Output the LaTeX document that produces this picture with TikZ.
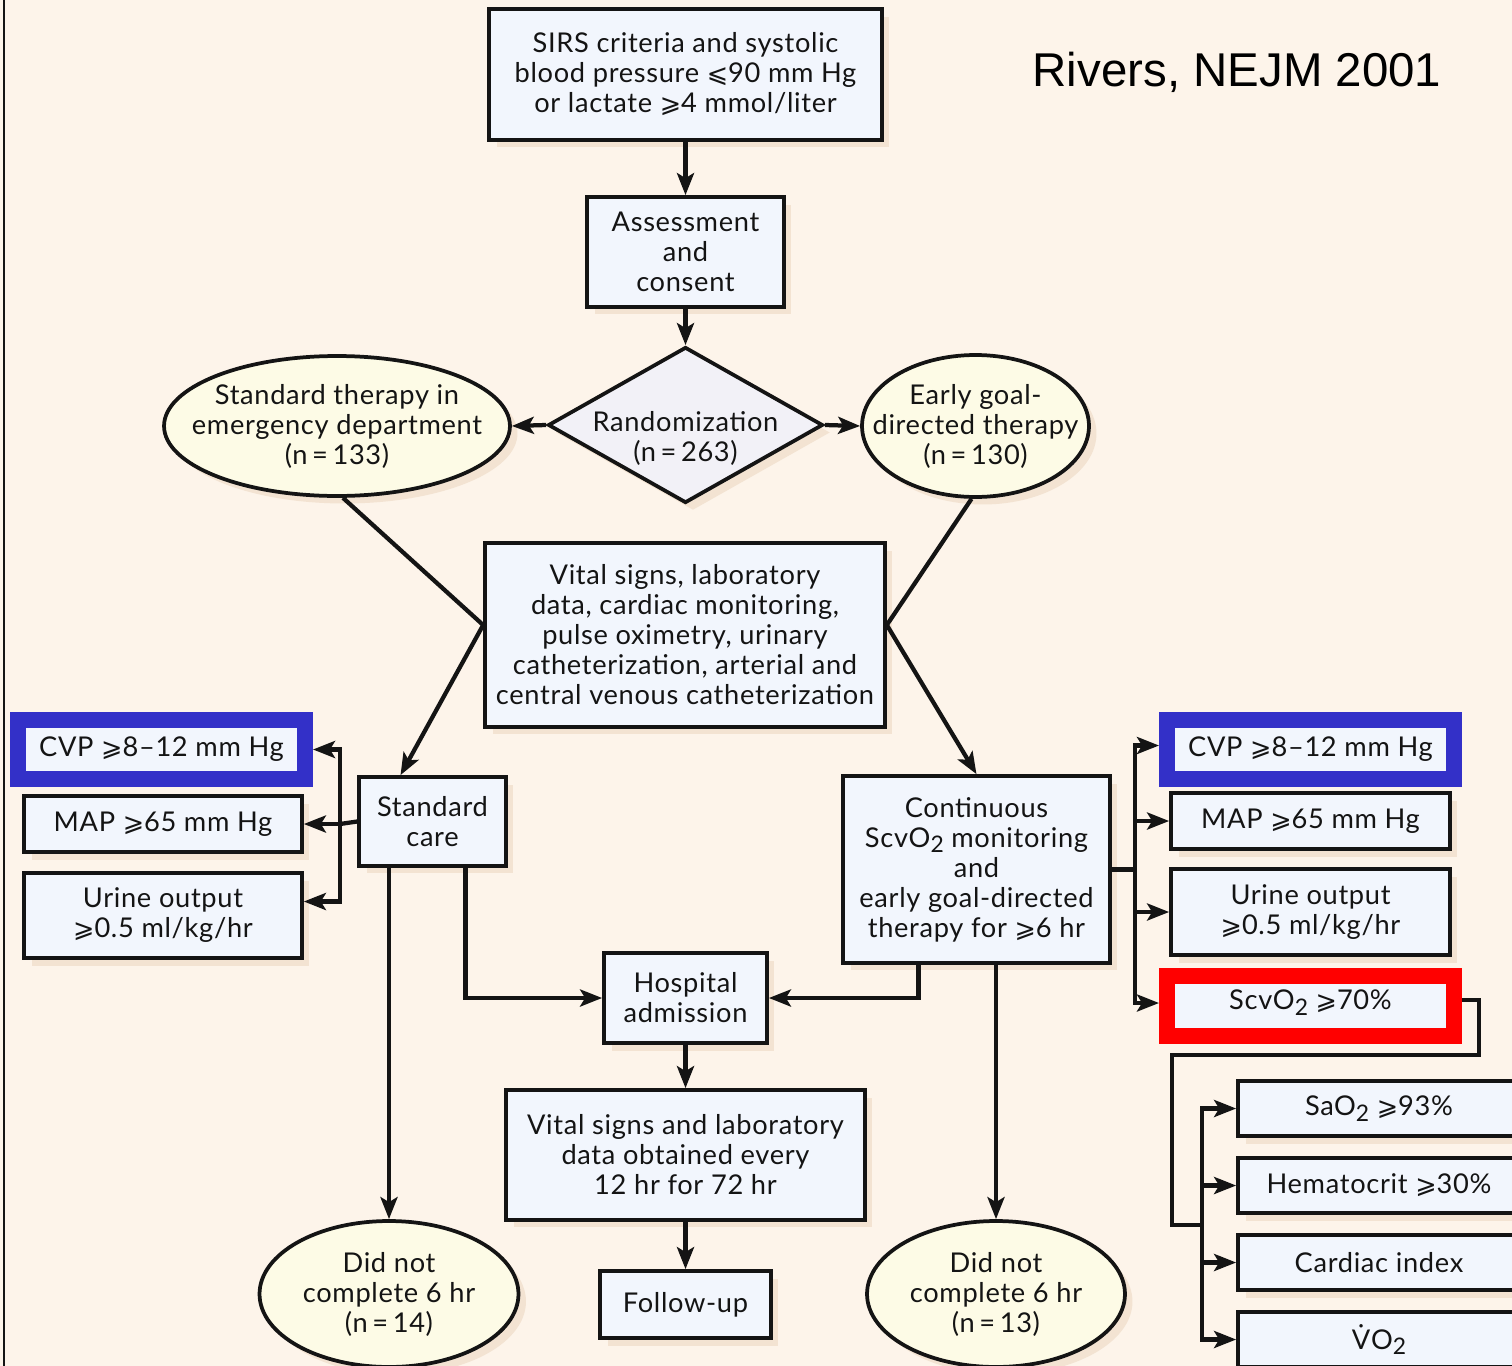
\documentclass[tikz,border=0pt]{standalone}
\usepackage{fontspec}
\setmainfont{Lato}[LetterSpace=2.5]
\newfontfamily\titlefont{Liberation Sans}
\newfontfamily\symf{DejaVu Sans}
\usetikzlibrary{shapes.geometric,arrows.meta,shadows,calc}

\definecolor{bgc}{HTML}{FDF4EA}
\definecolor{boxc}{HTML}{F2F6FD}
\definecolor{ellc}{HTML}{FDFBE6}
\definecolor{diac}{HTML}{F2F1F7}
\definecolor{shadc}{HTML}{F3E3D2}
\definecolor{bluec}{HTML}{3330C8}
\definecolor{redc}{HTML}{FF0000}
\definecolor{inkc}{HTML}{141414}

\newcommand\gesl{{\symf\fontsize{14.5}{14.5}\selectfont ⩾}}
\newcommand\lesl{{\symf\fontsize{14.5}{14.5}\selectfont ⩽}}
\newcommand\subtwo{\raisebox{-0.4ex}{\fontsize{13}{13}\selectfont 2}}

\tikzset{
  txt/.style={font=\fontsize{15.5}{17.07}\selectfont, text=inkc, align=center, inner sep=0pt},
  shad/.style={drop shadow={shadow xshift=0.15cm, shadow yshift=-0.15cm, fill=shadc, opacity=1}},
  box/.style={txt, rectangle, draw=inkc, line width=0.075cm, fill=boxc, shad},
  bluebox/.style={txt, rectangle, draw=bluec, line width=0.32cm, fill=boxc},
  redbox/.style={txt, rectangle, draw=redc, line width=0.32cm, fill=boxc},
  oval/.style={txt, ellipse, draw=inkc, line width=0.075cm, fill=ellc, shad, inner xsep=-0.6cm, inner ysep=-0.2cm},
  rhomb/.style={diamond, draw=inkc, line width=0.075cm, fill=diac, shad, inner sep=0pt},
  conn/.style={draw=inkc, line width=0.085cm},
  arr/.style={conn, -{Stealth[length=0.44cm, width=0.34cm, inset=0.1cm]}},
}

\begin{document}
\begin{tikzpicture}[x=0.02cm, y=-0.02cm]
\useasboundingbox (0,0) rectangle (1512,1366);
\clip (0,0) rectangle (1512,1366);
\fill[bgc] (0,0) rectangle (1512,1366);
\draw[inkc, line width=0.04cm] (4,-5) -- (4,1371);

% title
\node[font=\titlefont\fontsize{27}{30}\selectfont, inner sep=0pt] (title) at (1237,72) {Rivers, NEJM 2001};

% central column
\node[box, minimum width=7.86cm, minimum height=2.62cm] (sirs) at (685.5,74.5)
  {SIRS criteria and systolic\\blood pressure \lesl90 mm Hg\\or lactate \gesl4 mmol/liter};
\node[box, minimum width=3.94cm, minimum height=2.2cm] (assess) at (685.5,252)
  {Assessment\\and\\consent};
\node[rhomb, minimum width=5.5cm, minimum height=3.12cm, aspect=1.76] (rand) at (685.5,425) {};
\node[txt] (randtxt) at (685.5,438) {Randomization\\(n\,=\,263)};
\node[oval, minimum width=6.92cm, minimum height=2.8cm] (lell) at (337,426)
  {Standard therapy in\\emergency department\\(n\,=\,133)};
\node[oval, minimum width=4.54cm, minimum height=2.84cm] (rell) at (975.5,426)
  {Early goal-\\directed therapy\\(n\,=\,130)};
\node[box, minimum width=8.0cm, minimum height=3.68cm] (vital) at (685,635)
  {Vital signs, laboratory\\data, cardiac monitoring,\\pulse oximetry, urinary\\catheterization, arterial and\\central venous catheterization};

% standard care branch
\node[box, minimum width=2.94cm, minimum height=1.78cm] (std) at (432.5,821.5)
  {Standard\\care};
\node[bluebox, minimum width=5.74cm, minimum height=1.18cm] (cvpL) at (161.5,749.5)
  {CVP \gesl8--12 mm Hg};
\node[box, minimum width=5.56cm, minimum height=1.12cm] (mapL) at (163,824)
  {MAP \gesl65 mm Hg};
\node[box, minimum width=5.56cm, minimum height=1.7cm] (urL) at (163,915.5)
  {Urine output\\\gesl0.5 ml/kg/hr};

% early goal-directed branch
\node[box, minimum width=5.34cm, minimum height=3.74cm] (cont) at (976.5,869.5)
  {Continuous\\ScvO\subtwo{} monitoring\\and\\early goal-directed\\therapy for \gesl6 hr};
\node[bluebox, minimum width=5.74cm, minimum height=1.18cm] (cvpR) at (1310.5,749.5)
  {\raisebox{0.12cm}{CVP \gesl8--12 mm Hg}};
\node[box, minimum width=5.58cm, minimum height=1.12cm] (mapR) at (1310.5,821)
  {MAP \gesl65 mm Hg};
\node[box, minimum width=5.58cm, minimum height=1.72cm] (urR) at (1310.5,912)
  {Urine output\\\gesl0.5 ml/kg/hr};
\node[redbox, minimum width=5.74cm, minimum height=1.2cm] (scvo) at (1310.5,1006)
  {\raisebox{0.24cm}{ScvO\subtwo{} \gesl70\%}};
\node[box, minimum width=5.64cm, minimum height=1.1cm] (sao) at (1379,1108.5)
  {SaO\subtwo{} \gesl93\%};
\node[box, minimum width=5.64cm, minimum height=1.1cm] (hem) at (1379,1185.5)
  {Hematocrit \gesl30\%};
\node[box, minimum width=5.64cm, minimum height=1.1cm] (card) at (1379,1262.5)
  {Cardiac index};
\node[box, minimum width=5.64cm, minimum height=1.1cm] (vo) at (1379,1339.5)
  {V^^^^0307O\subtwo};

% lower column
\node[box, minimum width=3.26cm, minimum height=1.8cm] (hosp) at (685.5,998)
  {Hospital\\admission};
\node[box, minimum width=7.18cm, minimum height=2.6cm] (lab) at (685.5,1155)
  {Vital signs and laboratory\\data obtained every\\12 hr for 72 hr};
\node[box, minimum width=3.42cm, minimum height=1.34cm] (follow) at (685.5,1304.5)
  {Follow-up};
\node[oval, minimum width=5.18cm, minimum height=2.92cm] (lbot) at (389,1294)
  {Did not\\complete 6 hr\\(n\,=\,14)};
\node[oval, minimum width=5.16cm, minimum height=2.92cm] (rbot) at (996,1294)
  {Did not\\complete 6 hr\\(n\,=\,13)};

% junction points
\coordinate (kl) at ($(vital.west)+(0,-10)$);
\coordinate (kr) at ($(vital.east)+(0,-10)$);
\coordinate (jl) at (340,824);
\coordinate (jr) at (1135,869.5);
\coordinate (jb) at (1202,1225);

% main flow
\draw[arr] (sirs) -- (assess);
\draw[arr] (assess) -- (rand);
\draw[arr] (rand.west) -- (lell.east);
\draw[arr] (rand.east) -- (rell.west);
\draw[conn] ($(lell.south)+(6,0)$) -- (kl);
\draw[conn] ($(rell.south)+(-4,0)$) -- (kr);
\draw[arr] (kl) -- ($(std.north)+(-32,0)$);
\draw[arr] (kr) -- (cont.north);

% standard care targets
\draw[conn] (std.west) -- (jl);
\draw[arr] (jl) |- (cvpL.east);
\draw[arr] (jl) -- (mapL.east);
\draw[arr] (jl) |- ([yshift=0.28cm]urL.east);

% goal-directed targets
\draw[conn] (cont.east |- jr) -- (jr);
\draw[arr] (jr) |- ([yshift=0.08cm]cvpR.west);
\draw[arr] (jr) |- (mapR.west);
\draw[arr] (jr) |- (urR.west);
\draw[arr] (jr) |- ([yshift=0.06cm]scvo.west);
\draw[conn] ([yshift=0.12cm]scvo.east) -- ++(17,0) |- (1172,1055) |- (jb);
\draw[arr] (jb) |- (sao.west);
\draw[arr] (jb) |- (hem.west);
\draw[arr] (jb) |- (card.west);
\draw[arr] (jb) |- (vo.west);

% admission and drop-outs
\draw[arr] ($(std.south)+(33,0)$) |- (hosp.west);
\draw[arr] ($(cont.south)+(-58,0)$) |- (hosp.east);
\draw[arr] (std.south -| lbot.north) -- (lbot.north);
\draw[arr] (cont.south -| rbot.north) -- (rbot.north);
\draw[arr] (hosp) -- (lab);
\draw[arr] (lab) -- (follow);
\end{tikzpicture}
\end{document}
